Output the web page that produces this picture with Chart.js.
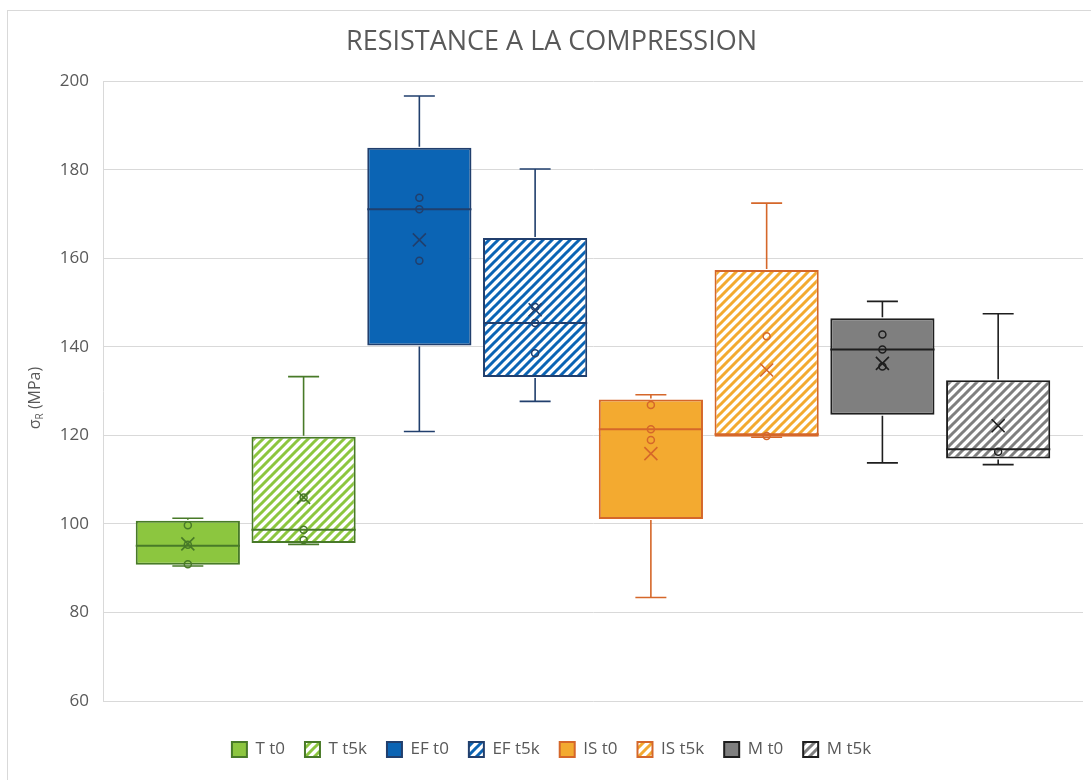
<!DOCTYPE html>
<html>
<head>
<meta charset="utf-8">
<title>Resistance a la compression</title>
<script src="https://cdn.jsdelivr.net/npm/chart.js@4.4.0/dist/chart.umd.min.js"></script>
<style>
html, body { margin: 0; padding: 0; background: #fff; }
#wrap { position: relative; width: 1091px; height: 780px; }
</style>
</head>
<body>
<div id="wrap"><canvas id="mycanvas" width="1091" height="780"></canvas></div>
<script>
// data (MPa)
var labels = ['T t0', 'T t5k', 'EF t0', 'EF t5k', 'IS t0', 'IS t5k', 'M t0', 'M t5k'];
var minVals    = [90.5, 95.4, 120.9, 127.7, 83.4, 119.6, 113.8, 113.4];
var q1Vals     = [90.8, 95.7, 140.3, 133.2, 101.1, 119.7, 124.7, 114.8];
var medianVals = [95.1, 98.7, 171.1, 145.4, 121.4, 120.3, 139.4, 116.9];
var q3Vals     = [100.7, 119.7, 185.0, 164.6, 128.1, 157.4, 146.5, 132.5];
var maxVals    = [101.3, 133.3, 196.7, 180.2, 129.2, 172.5, 150.3, 147.5];
var meanVals   = [95.5, 106.0, 164.2, 148.4, 115.9, 134.8, 136.3, 122.2];
var innerPoints = [
	[99.7, 95.3, 90.9],
	[106.0, 98.7, 96.4],
	[173.7, 171.1, 159.5],
	[149.0, 145.4, 138.6],
	[126.9, 121.4, 119.0],
	[142.4, 119.9],
	[142.8, 139.4, 135.6],
	[116.3]
];
var yMin = 60, yMax = 200, yStep = 20;

// styles
var fillColors   = ['#8cc63f', '#8cc63f', '#0b64b4', '#0b64b4', '#f3aa30', '#f3aa30', '#7f7f7f', '#7f7f7f'];
var borderColors = ['#487a28', '#487a28', '#213f6d', '#213f6d', '#d5672a', '#d5672a', '#1e1e1e', '#1e1e1e'];
var hatched      = [false, true, false, true, false, true, false, true];
var textColor = '#595959';
var gridColor = '#d9d9d9';
var fontFamily = "'Open Sans', 'Liberation Sans', sans-serif";

function hatch(color) {
	var size = 9;
	var c = document.createElement('canvas');
	c.width = size; c.height = size;
	var x = c.getContext('2d');
	x.fillStyle = '#ffffff';
	x.fillRect(0, 0, size, size);
	x.strokeStyle = color;
	x.lineWidth = 3;
	x.beginPath();
	x.moveTo(0, size); x.lineTo(size, 0);
	x.moveTo(-2, 2); x.lineTo(2, -2);
	x.moveTo(size - 2, size + 2); x.lineTo(size + 2, size - 2);
	x.stroke();
	return x.createPattern(c, 'repeat');
}

var datasets = [];
for (var i = 0; i < labels.length; i++) {
	datasets.push({
		label: labels[i],
		data: [[q1Vals[i], q3Vals[i]]],
		backgroundColor: hatched[i] ? hatch(fillColors[i]) : fillColors[i],
		borderColor: borderColors[i],
		borderWidth: 2,
		borderSkipped: false
	});
}

// whiskers, median, mean and inner points
var boxExtras = {
	id: 'boxExtras',
	afterDatasetsDraw: function(chart) {
		var ctx = chart.ctx;
		var y = chart.scales.y;
		for (var i = 0; i < labels.length; i++) {
			var bar = chart.getDatasetMeta(i).data[0];
			var x = bar.x, half = bar.width / 2, cap = 15.5;
			var pMin = y.getPixelForValue(minVals[i]);
			var pMax = y.getPixelForValue(maxVals[i]);
			var pQ1 = y.getPixelForValue(q1Vals[i]);
			var pQ3 = y.getPixelForValue(q3Vals[i]);
			var pMed = y.getPixelForValue(medianVals[i]);
			var pMean = y.getPixelForValue(meanVals[i]);
			ctx.save();
			ctx.strokeStyle = borderColors[i];
			ctx.lineWidth = 1.6;
			ctx.beginPath();
			ctx.moveTo(x, pQ3 - 1); ctx.lineTo(x, pMax);
			ctx.moveTo(x - cap, pMax); ctx.lineTo(x + cap, pMax);
			ctx.moveTo(x, pQ1 + 1); ctx.lineTo(x, pMin);
			ctx.moveTo(x - cap, pMin); ctx.lineTo(x + cap, pMin);
			ctx.stroke();
			// median
			ctx.lineWidth = 2;
			ctx.beginPath();
			ctx.moveTo(x - half, pMed); ctx.lineTo(x + half, pMed);
			ctx.stroke();
			// mean
			var s = 6.5;
			ctx.lineWidth = 1.6;
			ctx.beginPath();
			ctx.moveTo(x - s, pMean - s); ctx.lineTo(x + s, pMean + s);
			ctx.moveTo(x - s, pMean + s); ctx.lineTo(x + s, pMean - s);
			ctx.stroke();
			// inner points
			ctx.lineWidth = 1.5;
			innerPoints[i].forEach(function(v) {
				ctx.beginPath();
				ctx.arc(x, y.getPixelForValue(v), 3.5, 0, Math.PI * 2);
				ctx.stroke();
			});
			ctx.restore();
		}
	}
};

// outer frame and y axis title with subscript
var frame = {
	id: 'frame',
	afterDraw: function(chart) {
		var ctx = chart.ctx;
		ctx.save();
		ctx.strokeStyle = gridColor;
		ctx.lineWidth = 1;
		ctx.strokeRect(7.5, 10.5, 1100, 800);

		var cy = 398;
		ctx.translate(35, cy);
		ctx.rotate(-Math.PI / 2);
		ctx.fillStyle = textColor;
		ctx.textBaseline = 'middle';
		ctx.font = '16px ' + fontFamily;
		var w1 = ctx.measureText('σ').width;
		var w3 = ctx.measureText(' (MPa)').width;
		ctx.font = '10px ' + fontFamily;
		var w2 = ctx.measureText('R').width;
		var start = -(w1 + w2 + w3) / 2;
		ctx.font = '16px ' + fontFamily;
		ctx.fillText('σ', start, 0);
		ctx.font = '10px ' + fontFamily;
		ctx.fillText('R', start + w1, 5);
		ctx.font = '16px ' + fontFamily;
		ctx.fillText(' (MPa)', start + w1 + w2, 0);
		ctx.restore();
	}
};

var ctx = document.getElementById('mycanvas');
var chart = new Chart(ctx, {
	type: 'bar',
	data: { labels: [''], datasets: datasets },
	plugins: [boxExtras, frame],
	options: {
		responsive: false,
		animation: false,
		layout: { padding: { left: 20, right: 8, top: 0, bottom: 12 } },
		datasets: { bar: { categoryPercentage: 0.945, barPercentage: 0.9, grouped: true } },
		scales: {
			x: {
				display: true,
				grid: { display: false },
				border: { display: false },
				ticks: { display: false },
				afterFit: function(s) { s.height = 20; }
			},
			y: {
				min: yMin,
				max: yMax,
				ticks: { stepSize: yStep, color: textColor, font: { family: fontFamily, size: 17 }, padding: 14 },
				grid: { color: gridColor, lineWidth: 1, drawTicks: false },
				border: { display: true, color: gridColor },
				afterFit: function(s) { s.width = 83; }
			}
		},
		plugins: {
			tooltip: { enabled: false },
			title: {
				display: true,
				text: 'RESISTANCE A LA COMPRESSION',
				color: textColor,
				font: { family: fontFamily, size: 27, weight: 'normal' },
				padding: { top: 26, bottom: 23 }
			},
			legend: {
				position: 'bottom',
				labels: {
					color: textColor,
					font: { family: fontFamily, size: 17 },
					boxWidth: 15,
					boxHeight: 15,
					padding: 20
				}
			}
		}
	}
});
</script>
</body>
</html>
